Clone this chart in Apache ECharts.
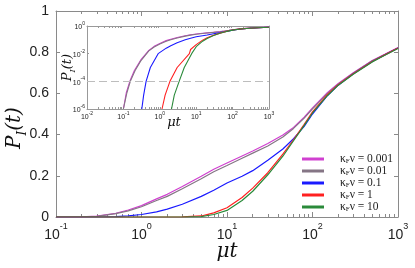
<!DOCTYPE html>
<html><head><meta charset="utf-8">
<script src="https://cdn.jsdelivr.net/npm/echarts@6/dist/echarts.min.js"></script>
<style>html,body{margin:0;padding:0;background:#fff}#c{width:415px;height:268px}</style>
</head><body><div id="c"></div>
<script>
// ---- data ----
const kappaLabels = ['0.001', '0.01', '0.1', '1', '10'];
const seriesColors = ['#d040d0', '#857585', '#1a1aff', '#ff2020', '#2a8a3a'];
// shared time grid (mu t)
const times = [0.1,0.2,0.3,0.5,0.7,1,1.5,2,3,5,7,10,15,20,30,45,60,80,100,150,200,300,500,700,1000];
const P_k0001 = [0,0.001,0.004,0.018,0.034,0.055,0.088,0.11,0.148,0.198,0.232,0.262,0.296,0.32,0.357,0.398,0.435,0.485,0.53,0.605,0.648,0.70,0.76,0.79,0.823];
const P_k001  = [0,0.001,0.003,0.016,0.030,0.050,0.080,0.10,0.137,0.186,0.220,0.250,0.285,0.31,0.345,0.388,0.430,0.480,0.525,0.600,0.645,0.698,0.758,0.788,0.82];
const P_k01   = [0,0,0,0.002,0.005,0.012,0.025,0.038,0.062,0.10,0.13,0.165,0.198,0.225,0.275,0.33,0.38,0.44,0.50,0.59,0.64,0.695,0.755,0.787,0.82];
const P_k1    = [0,0,0,0,0,0,0,0,0.001,0.005,0.02,0.045,0.095,0.14,0.215,0.305,0.375,0.45,0.51,0.595,0.642,0.695,0.755,0.787,0.82];
const P_k10   = [0,0,0,0,0,0,0,0,0,0.002,0.012,0.032,0.08,0.125,0.205,0.295,0.37,0.445,0.505,0.59,0.64,0.693,0.753,0.785,0.818];
// early-time points for the log-log inset [t, P]
const early_k0001 = [[0.1,1e-6],[0.12,1.5e-5],[0.15,1e-4],[0.2,6e-4],[0.3,3.5e-3],[0.5,0.017]];
const early_k001  = [[0.1,1e-6],[0.125,1.5e-5],[0.155,1e-4],[0.21,6e-4],[0.3,3e-3],[0.5,0.016]];
const early_k01   = [[0.32,1e-6],[0.36,1e-5],[0.42,1e-4],[0.55,1e-3],[0.9,1e-2]];
const early_k1    = [[1.15,1e-6],[1.4,1e-5],[1.9,1e-4],[3,1e-3],[6.5,1e-2]];
const early_k10   = [[2.1,1e-6],[2.5,1e-5],[3.4,1e-4],[4.7,1e-3],[7.5,1e-2]];
const insetThreshold = 1e-4;

// ---- build ----
const mainValues = [P_k0001, P_k001, P_k01, P_k1, P_k10];
const earlyValues = [early_k0001, early_k001, early_k01, early_k1, early_k10];
const names = kappaLabels.map(k => 'k' + k);
const lg = Math.log10;

function minorTicks(a, b) {
  const out = [];
  for (let d = a; d < b; d++) for (let k = 2; k <= 9; k++) out.push(d + lg(k));
  return out;
}
function majorTicks(a, b) { const o = []; for (let d = a; d <= b; d++) o.push(d); return o; }

const AX = '#8a8a8a';
const supLabel = (size, sub) => ({
  fontFamily: 'Liberation Sans', color: '#222', fontSize: size,
  formatter: v => '{b|10}{s|' + Math.round(v) + '}',
  rich: {
    b: { fontSize: size, fontFamily: 'Liberation Sans', color: '#222', verticalAlign: 'bottom', lineHeight: Math.round(size * 1.45) },
    s: { fontSize: sub, fontFamily: 'Liberation Sans', color: '#222', verticalAlign: 'top', lineHeight: sub + 1 }
  }
});
const line = c => ({ show: true, onZero: false, lineStyle: { color: c, width: 1 } });

const series = [];
mainValues.forEach((vals, i) => {
  series.push({
    name: names[i], type: 'line', xAxisIndex: 0, yAxisIndex: 0,
    showSymbol: false, symbol: 'none', silent: true, animation: false,
    lineStyle: { color: seriesColors[i], width: 1.2 }, itemStyle: { color: seriesColors[i] },
    data: times.map((t, j) => [lg(t), vals[j]]), z: 3
  });
});
earlyValues.forEach((pts, i) => {
  const lastT = pts[pts.length - 1][0];
  const merged = pts.concat(times.map((t, j) => [t, mainValues[i][j]]).filter(p => p[0] > lastT && p[1] > 0));
  const s = {
    name: names[i], type: 'line', xAxisIndex: 4, yAxisIndex: 4,
    showSymbol: false, symbol: 'none', silent: true, animation: false,
    lineStyle: { color: seriesColors[i], width: 1.1 }, itemStyle: { color: seriesColors[i] },
    data: merged.map(p => [lg(p[0]), lg(p[1])]), z: 4
  };
  if (i === 0) {
    s.markLine = { silent: true, symbol: 'none', animation: false, label: { show: false },
      lineStyle: { color: '#bdbdbd', type: [8, 4], width: 1 },
      data: [{ yAxis: lg(insetThreshold) }] };
  }
  series.push(s);
});

const mainGrid = { left: 56, right: 17, top: 11, bottom: 51, outerBoundsMode: 'none', containLabel: false };
const insetGrid = { left: 87, right: 146, top: 26, bottom: 159, outerBoundsMode: 'none', containLabel: false };

const titleRich = (big, small, drop) => ({
  i: { fontFamily: 'DejaVu Serif', fontStyle: 'italic', fontSize: big, color: '#111', verticalAlign: 'top', lineHeight: big + drop },
  s: { fontFamily: 'DejaVu Serif', fontStyle: 'italic', fontSize: small, color: '#111', verticalAlign: 'bottom', lineHeight: small }
});

const option = {
  animation: false,
  backgroundColor: '#fff',
  grid: [
    Object.assign({}, mainGrid),
    Object.assign({}, insetGrid),
    Object.assign({}, mainGrid)
  ],
  xAxis: [
    { // 0 main bottom (labels + minor ticks)
      gridIndex: 0, type: 'value', min: -1, max: 3, interval: 1, position: 'bottom',
      axisLine: line(AX),
      axisTick: { show: true, inside: true, length: 3, lineStyle: { color: AX }, customValues: minorTicks(-1, 3) },
      axisLabel: Object.assign({ margin: 5 }, supLabel(14, 9)),
      splitLine: { show: false },
      name: 'μt', nameLocation: 'middle', nameGap: 25, nameMoveOverlap: false,
      nameTextStyle: { fontFamily: 'DejaVu Serif', fontStyle: 'italic', fontSize: 20, color: '#111' }
    },
    { // 1 main top
      gridIndex: 0, type: 'value', min: -1, max: 3, interval: 1, position: 'top',
      axisLine: line(AX),
      axisTick: { show: true, inside: true, length: 3, lineStyle: { color: AX }, customValues: minorTicks(-1, 3) },
      axisLabel: { show: false }, splitLine: { show: false }
    },
    { // 2 overlay bottom major ticks
      gridIndex: 2, type: 'value', min: -1, max: 3, interval: 1, position: 'bottom',
      axisLine: { show: false, onZero: false }, axisLabel: { show: false }, splitLine: { show: false },
      axisTick: { show: true, inside: true, length: 5, lineStyle: { color: AX }, customValues: majorTicks(-1, 3) }
    },
    { // 3 overlay top major ticks
      gridIndex: 2, type: 'value', min: -1, max: 3, interval: 1, position: 'top',
      axisLine: { show: false, onZero: false }, axisLabel: { show: false }, splitLine: { show: false },
      axisTick: { show: true, inside: true, length: 5, lineStyle: { color: AX }, customValues: majorTicks(-1, 3) }
    },
    { // 4 inset bottom
      gridIndex: 1, type: 'value', min: -2, max: 3, interval: 1, position: 'bottom',
      axisLine: line('#999'),
      axisTick: { show: true, inside: true, length: 2, lineStyle: { color: '#999' }, customValues: minorTicks(-2, 3).concat(majorTicks(-2, 3)) },
      axisLabel: Object.assign({ margin: 2 }, supLabel(7, 5)),
      splitLine: { show: false },
      name: 'μt', nameLocation: 'middle', nameGap: 7, nameMoveOverlap: false,
      nameTextStyle: { fontFamily: 'DejaVu Serif', fontStyle: 'italic', fontSize: 13, color: '#111', padding: [0, 8, 0, 0] }
    },
    { // 5 inset top
      gridIndex: 1, type: 'value', min: -2, max: 3, interval: 1, position: 'top',
      axisLine: line('#999'),
      axisTick: { show: true, inside: true, length: 2, lineStyle: { color: '#999' }, customValues: minorTicks(-2, 3) },
      axisLabel: { show: false }, splitLine: { show: false }
    }
  ],
  yAxis: [
    { // 0 main left
      gridIndex: 0, type: 'value', min: 0, max: 1, interval: 0.2, position: 'left',
      axisLine: line(AX),
      axisTick: { show: true, inside: true, length: 4, lineStyle: { color: AX } },
      axisLabel: { margin: 7, fontFamily: 'Liberation Sans', fontSize: 14, color: '#222',
        formatter: v => (v === 0 ? '0' : (Math.abs(v - 1) < 1e-9 ? '1' : v.toFixed(1))) },
      splitLine: { show: false },
      name: '{i|P}{s|I}{i|(t)}', nameLocation: 'middle', nameGap: 27, nameRotate: 90, nameMoveOverlap: false,
      nameTextStyle: { padding: [0, 28, 0, 0], rich: titleRich(20, 12, 4) }
    },
    { // 1 main right
      gridIndex: 0, type: 'value', min: 0, max: 1, interval: 0.2, position: 'right',
      axisLine: line(AX),
      axisTick: { show: true, inside: true, length: 4, lineStyle: { color: AX } },
      axisLabel: { show: false }, splitLine: { show: false }
    },
    { // 2 overlay (hidden)
      gridIndex: 2, type: 'value', min: 0, max: 1, show: false
    },
    { // 3 unused hidden on overlay
      gridIndex: 2, type: 'value', min: 0, max: 1, show: false, position: 'right'
    },
    { // 4 inset left
      gridIndex: 1, type: 'value', min: -6, max: 0, interval: 2, position: 'left',
      axisLine: line('#999'),
      axisTick: { show: true, inside: true, length: 2, lineStyle: { color: '#999' } },
      axisLabel: Object.assign({ margin: 2 }, supLabel(7, 5)),
      splitLine: { show: false },
      name: '{i|P}{s|I}{i|(t)}', nameLocation: 'middle', nameGap: 10, nameRotate: 90, nameMoveOverlap: false,
      nameTextStyle: { rich: titleRich(13, 8, 3) }
    },
    { // 5 inset right
      gridIndex: 1, type: 'value', min: -6, max: 0, interval: 2, position: 'right',
      axisLine: line('#999'),
      axisTick: { show: false }, axisLabel: { show: false }, splitLine: { show: false }
    }
  ],
  legend: {
    orient: 'vertical', left: 297, top: 148, icon: 'rect', itemWidth: 22, itemHeight: 3, itemGap: 0,
    selectedMode: false, data: names,
    formatter: name => '{g|}{a|κ}{f|F}{a|ν = ' + name.slice(1) + '}',
    textStyle: { color: '#222', fontSize: 10, lineHeight: 12, rich: {
      g: { width: 11 },
      a: { fontFamily: 'Liberation Serif', fontSize: 11.5, color: '#222', verticalAlign: 'top', lineHeight: 12 },
      f: { fontFamily: 'Liberation Serif', fontSize: 7, color: '#222', verticalAlign: 'bottom', lineHeight: 7 }
    } }
  },
  series: series
};

const chart = echarts.init(document.getElementById('c'), null, { renderer: 'canvas', width: 415, height: 268 });
chart.setOption(option);
</script></body></html>
